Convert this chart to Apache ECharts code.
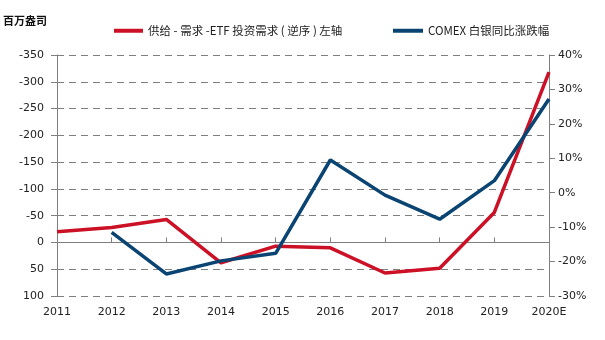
<!DOCTYPE html>
<html>
<head>
<meta charset="utf-8">
<script src="https://cdn.jsdelivr.net/npm/echarts@6/dist/echarts.min.js"></script>
<style>html,body{margin:0;padding:0;background:#fff}#c{width:605px;height:340px}</style>
</head>
<body>
<div id="c"></div>
<script>
const categories = ['2011','2012','2013','2014','2015','2016','2017','2018','2019','2020E'];
const supplyMinusDemand = [-20, -28, -43, 38, 7, 10, 57, 48, -56, -318];
const comexYoY = [null, -11.5, -23.6, -19.8, -17.6, 9.5, -0.7, -7.7, 3.5, 27.2];
const leftTicks = {min: -350, max: 100, interval: 50};
const rightTicks = {min: -30, max: 40, interval: 10};
const unitLabel = '百万盎司';
const seriesNames = ['供给 - 需求 -ETF 投资需求 ( 逆序 ) 左轴', 'COMEX 白银同比涨跌幅'];

const RED = '#CC1025', BLUE = '#0A4472', GRAY = '#7f7f7f', TXT = '#222';
const FONT = 'DejaVu Sans, Noto Sans CJK SC, sans-serif';
const chart = echarts.init(document.getElementById('c'), null, {renderer: 'canvas'});
chart.setOption({
  animation: false,
  textStyle: {fontFamily: FONT},
  title: {text: unitLabel, left: 3, top: 15, padding: 0, textStyle: {fontSize: 11, fontWeight: 'bold', color: '#111', fontFamily: 'Noto Sans CJK SC'}},
  legend: [
    {data: [seriesNames[0]], left: 114, top: 25, padding: 0, icon: 'rect', itemWidth: 29, itemHeight: 4, itemGap: 4,
     textStyle: {fontSize: 11.5, color: TXT, fontFamily: 'Noto Sans CJK SC'}},
    {data: [seriesNames[1]], left: 393, top: 25, padding: 0, icon: 'rect', itemWidth: 30, itemHeight: 4, itemGap: 4,
     textStyle: {fontSize: 11.5, color: TXT, fontFamily: 'Noto Sans CJK SC'}}
  ],
  grid: {left: 57, right: 56, top: 55, bottom: 44, containLabel: false},
  xAxis: [
    {type: 'category', data: categories, boundaryGap: false, position: 'bottom',
     axisLine: {show: false, onZero: false}, axisTick: {show: false},
     axisLabel: {color: TXT, fontSize: 11, margin: 11, interval: 0}, splitLine: {show: false}},
    {type: 'category', data: categories, boundaryGap: false, position: 'bottom',
     axisLine: {show: true, onZero: true, onZeroAxisIndex: 0, lineStyle: {color: GRAY, width: 1}},
     axisTick: {show: true, inside: true, length: 5, lineStyle: {color: GRAY}},
     axisLabel: {show: false}, splitLine: {show: false}}
  ],
  yAxis: [
    {type: 'value', inverse: true, min: leftTicks.min, max: leftTicks.max, interval: leftTicks.interval, position: 'left',
     axisLine: {show: true, lineStyle: {color: GRAY}}, axisTick: {show: true, length: 6, lineStyle: {color: GRAY}},
     axisLabel: {color: TXT, fontSize: 11, margin: 13},
     splitLine: {show: true, lineStyle: {color: GRAY, type: [7, 5], width: 1}}},
    {type: 'value', min: rightTicks.min, max: rightTicks.max, interval: rightTicks.interval, position: 'right',
     axisLine: {show: true, lineStyle: {color: GRAY}}, axisTick: {show: true, length: 6, lineStyle: {color: GRAY}},
     axisLabel: {color: TXT, fontSize: 11, margin: 9, formatter: '{value}%'},
     splitLine: {show: false}}
  ],
  series: [
    {name: seriesNames[0], type: 'line', xAxisIndex: 0, yAxisIndex: 0, data: supplyMinusDemand,
     symbol: 'none', itemStyle: {color: RED}, lineStyle: {color: RED, width: 3.5}},
    {name: seriesNames[1], type: 'line', xAxisIndex: 0, yAxisIndex: 1, data: comexYoY,
     symbol: 'none', connectNulls: false, itemStyle: {color: BLUE}, lineStyle: {color: BLUE, width: 3.5}}
  ]
});
</script>
</body>
</html>
